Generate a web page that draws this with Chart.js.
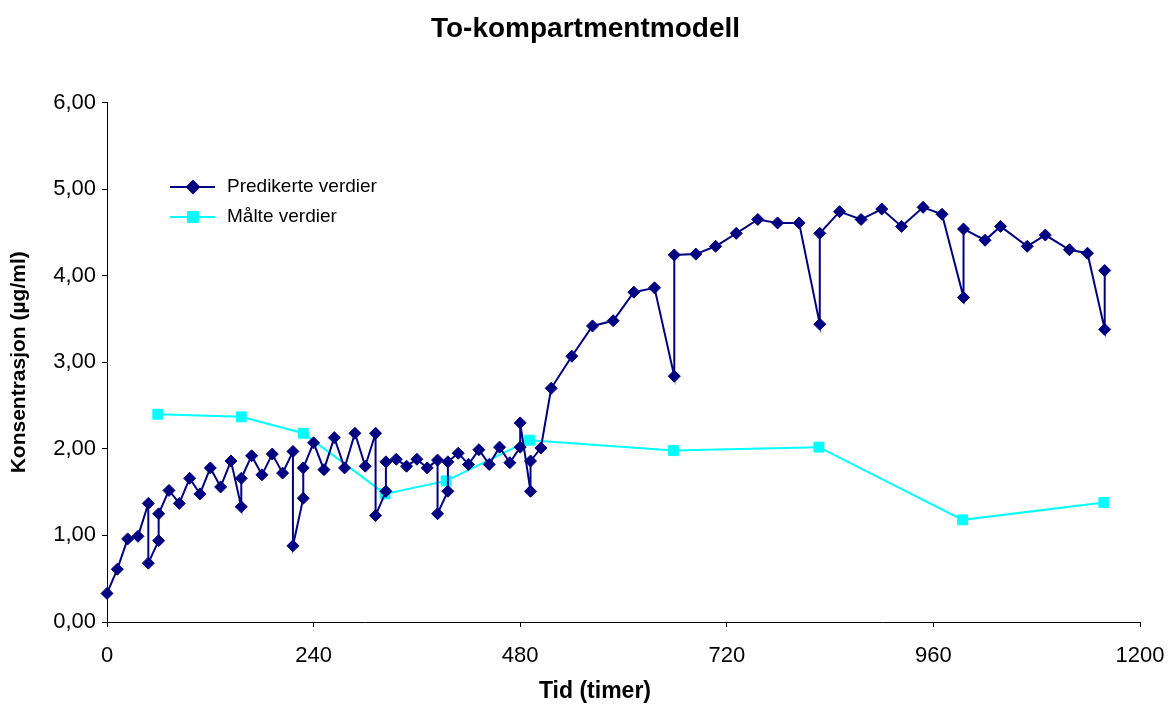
<!DOCTYPE html>
<html>
<head>
<meta charset="utf-8">
<script src="https://cdn.jsdelivr.net/npm/chart.js@4.4.0/dist/chart.umd.min.js"></script>
<style>
html,body{margin:0;padding:0;background:#fff;}
#wrap{width:1171px;height:707px;position:relative;}
</style>
</head>
<body>
<div id="wrap"><canvas id="c" width="1171" height="707"></canvas></div>
<script>
const chartTitle = "To-kompartmentmodell";
const xTitle = "Tid (timer)";
const yTitle = "Konsentrasjon (µg/ml)";
const seriesNames = ["Predikerte verdier", "Målte verdier"];

const predTimes = [0,12,24,36,48,48,60,60,72,84,96,108,120,132,144,156,156,168,180,192,204,216,216,228,228,240,252,264,276,288,300,312,312,324,324,336,348,360,372,384,384,396,396,408,420,432,444,456,468,480,480,492,492,504,516,540,564,588,612,636,659,659,684,707,731,756,779,804,828,828,851,876,900,923,948,970,995,995,1020,1038,1069,1090,1118,1139,1159,1159];
const predValues = [0.33,0.61,0.96,0.99,1.37,0.68,0.94,1.25,1.52,1.37,1.66,1.48,1.78,1.56,1.86,1.33,1.66,1.92,1.70,1.94,1.72,1.97,0.88,1.43,1.78,2.07,1.76,2.13,1.78,2.18,1.80,2.18,1.23,1.51,1.85,1.88,1.80,1.88,1.78,1.87,1.25,1.51,1.85,1.95,1.82,1.99,1.82,2.02,1.84,2.02,2.30,1.51,1.86,2.01,2.70,3.07,3.42,3.48,3.81,3.86,2.84,4.24,4.25,4.34,4.49,4.65,4.61,4.61,3.44,4.49,4.74,4.65,4.77,4.57,4.79,4.71,3.75,4.54,4.41,4.57,4.34,4.47,4.30,4.26,3.38,4.06];

const measTimes = [59,156,228,323,394,491,658,827,994,1158];
const measValues = [2.40,2.37,2.18,1.48,1.63,2.10,1.98,2.02,1.18,1.38];

const xTicks = [0,240,480,720,960,1200];
const yTicks = [0,1,2,3,4,5,6];

const predColor = "#000080";
const measColor = "#00FFFF";
const FONT = "'Liberation Sans', Arial, sans-serif";

const toXY = (xs, ys) => xs.map((x, i) => ({x: x, y: ys[i]}));

const overlayPlugin = {
  id: 'overlay',
  afterDraw(chart) {
    const ctx = chart.ctx;
    const items = [
      {y: 187, color: predColor, style: 'rectRot', r: 6, text: seriesNames[0]},
      {y: 217, color: measColor, style: 'rect', r: 7, text: seriesNames[1]}
    ];
    ctx.save();
    items.forEach(it => {
      ctx.strokeStyle = it.color;
      ctx.lineWidth = 2;
      ctx.beginPath();
      ctx.moveTo(170, it.y);
      ctx.lineTo(215, it.y);
      ctx.stroke();
      ctx.fillStyle = it.color;
      Chart.helpers.drawPoint(ctx, {pointStyle: it.style, radius: it.r, borderWidth: 1}, 193, it.y);
      ctx.fill();
      ctx.fillStyle = '#000';
      ctx.font = "19px " + FONT;
      ctx.textBaseline = 'middle';
      ctx.textAlign = 'left';
      ctx.fillText(it.text, 227, it.y);
    });
    // x axis title
    ctx.fillStyle = '#000';
    ctx.font = "bold 23px " + FONT;
    ctx.textAlign = 'center';
    ctx.textBaseline = 'middle';
    ctx.fillText(xTitle, 595, 692);
    ctx.restore();
  }
};

new Chart(document.getElementById('c'), {
  type: 'line',
  data: {
    datasets: [
      {
        label: seriesNames[0],
        data: toXY(predTimes, predValues),
        borderColor: predColor,
        backgroundColor: predColor,
        borderWidth: 2,
        pointStyle: 'rectRot',
        pointRadius: 6,
        pointBorderWidth: 1,
        tension: 0,
        clip: false,
        order: 1
      },
      {
        label: seriesNames[1],
        data: toXY(measTimes, measValues),
        borderColor: measColor,
        backgroundColor: measColor,
        borderWidth: 2,
        pointStyle: 'rect',
        pointRadius: 7,
        pointBorderWidth: 1,
        tension: 0,
        clip: false,
        order: 2
      }
    ]
  },
  options: {
    responsive: false,
    animation: false,
    devicePixelRatio: 1,
    layout: {padding: {left: 0, right: 0, top: 0, bottom: 0}},
    plugins: {
      legend: {display: false},
      tooltip: {enabled: false},
      title: {
        display: true,
        text: chartTitle,
        color: '#000',
        font: {family: FONT, size: 28, weight: 'bold'},
        padding: {top: 12, bottom: 57}
      }
    },
    scales: {
      x: {
        type: 'linear',
        min: 0,
        max: 1200,
        afterBuildTicks: s => { s.ticks = xTicks.map(v => ({value: v})); },
        afterFit: s => { s.height = 85; s.paddingLeft = 0; s.paddingRight = 31; },
        ticks: {
          color: '#000',
          font: {family: FONT, size: 22},
          padding: 16,
          maxRotation: 0,
          autoSkip: false,
          callback: v => String(v)
        },
        grid: {display: true, drawOnChartArea: false, drawTicks: true, tickLength: 5, color: '#000', lineWidth: 1},
        border: {display: true, color: '#000', width: 1},
        title: {display: false, text: xTitle}
      },
      y: {
        type: 'linear',
        min: 0,
        max: 6,
        afterBuildTicks: s => { s.ticks = yTicks.map(v => ({value: v})); },
        afterFit: s => { s.width = 107; s.paddingTop = 0; s.paddingBottom = 0; },
        ticks: {
          color: '#000',
          font: {family: FONT, size: 22},
          padding: 6,
          callback: v => Number(v).toFixed(2).replace('.', ',')
        },
        grid: {display: true, drawOnChartArea: false, drawTicks: true, tickLength: 5, color: '#000', lineWidth: 1},
        border: {display: true, color: '#000', width: 1},
        title: {
          display: true,
          text: yTitle,
          color: '#000',
          font: {family: FONT, size: 21, weight: 'bold'},
          padding: {top: 7, bottom: 0}
        }
      }
    }
  },
  plugins: [overlayPlugin]
});
</script>
</body>
</html>
